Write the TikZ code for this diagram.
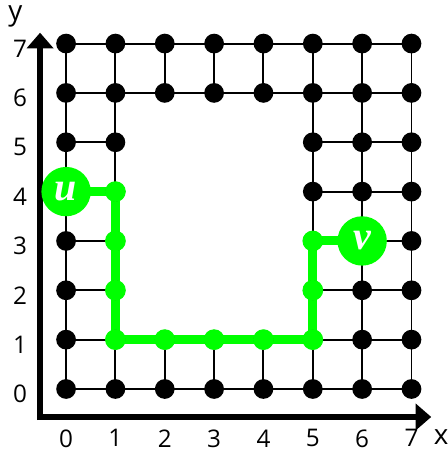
\documentclass[tikz,border=0pt]{standalone}
\usepackage{fontspec}
\setmainfont{Open Sans}
\newfontfamily\uvfont{Liberation Serif}
\usetikzlibrary{arrows.meta,backgrounds}
\definecolor{pathgreen}{RGB}{0,255,0}
\tikzset{
  dot/.style={circle,fill=black,inner sep=0pt,minimum size=0.40cm},
  gdot/.style={circle,fill=pathgreen,inner sep=0pt,minimum size=0.42cm},
  endpt/.style={circle,fill=pathgreen,inner sep=0pt,minimum size=1.0cm,text=white,font=\uvfont\bfseries\itshape\fontsize{23}{23}\selectfont},
  gridedge/.style={draw=black,line width=1.15pt},
  greenedge/.style={draw=pathgreen,line width=5.2pt},
  axis/.style={draw=black,line width=3.5pt,-{Triangle[length=9pt,width=15pt]}},
  ticklbl/.style={font=\fontsize{14}{16}\selectfont,inner sep=0pt}
}
\begin{document}
\begin{tikzpicture}
\useasboundingbox (-1.339,-1.277) rectangle (7.728,7.883);
% axes
\coordinate (origin) at (-0.527,-0.567);
\coordinate (xend) at (7.40,-0.567);
\coordinate (yend) at (-0.527,7.22);
\draw[axis] ([xshift=-1.75pt]origin) -- (xend);
\draw[axis] ([yshift=-1.75pt]origin) -- (yend);
\node[ticklbl,font=\fontsize{16}{16}\selectfont] (xlbl) at (7.60,-0.98) {x};
\node[ticklbl,font=\fontsize{16}{16}\selectfont] (ylbl) at (-1.03,7.55) {y};
\foreach \i in {0,...,7} {
  \node[ticklbl] (xt\i) at (\i,-1.0) {\i};
  \node[ticklbl] (yt\i) at (-0.93,\i-0.1) {\i};
}
% grid points
\foreach \j in {0,1,6,7} {
  \foreach \i in {0,...,7} {
    \node[dot] (p-\i-\j) at (\i,\j) {};
  }
}
\foreach \j in {2,...,5} {
  \foreach \i in {0,1,5,6,7} {
    \node[dot] (p-\i-\j) at (\i,\j) {};
  }
}
% green path nodes
\foreach \i/\j in {1/4,1/3,1/2,1/1,2/1,3/1,4/1,5/1,5/2,5/3} {
  \node[gdot] (g-\i-\j) at (\i,\j) {};
}
\node[endpt] (u) at (0,4) {u};
\node[endpt] (v) at (6,3) {v};
\begin{scope}[on background layer]
% horizontal edges
\foreach \j in {0,1,6,7} {
  \foreach \i [evaluate=\i as \k using int(\i+1)] in {0,...,6} {
    \draw[gridedge] (p-\i-\j.center) -- (p-\k-\j.center);
  }
}
\foreach \j in {2,...,5} {
  \foreach \i/\k in {0/1,5/6,6/7} {
    \draw[gridedge] (p-\i-\j.center) -- (p-\k-\j.center);
  }
}
% vertical edges
\foreach \i in {0,1,5,6,7} {
  \foreach \j [evaluate=\j as \k using int(\j+1)] in {0,...,6} {
    \draw[gridedge] (p-\i-\j.center) -- (p-\i-\k.center);
  }
}
\foreach \i in {2,3,4} {
  \draw[gridedge] (p-\i-0.center) -- (p-\i-1.center);
  \draw[gridedge] (p-\i-6.center) -- (p-\i-7.center);
}
% green path
\draw[greenedge] (u.center) -- (g-1-4.center) -- (g-1-3.center) -- (g-1-2.center) -- (g-1-1.center) -- (g-2-1.center) -- (g-3-1.center) -- (g-4-1.center) -- (g-5-1.center) -- (g-5-2.center) -- (g-5-3.center) -- (v.center);
\end{scope}
\end{tikzpicture}
\end{document}
